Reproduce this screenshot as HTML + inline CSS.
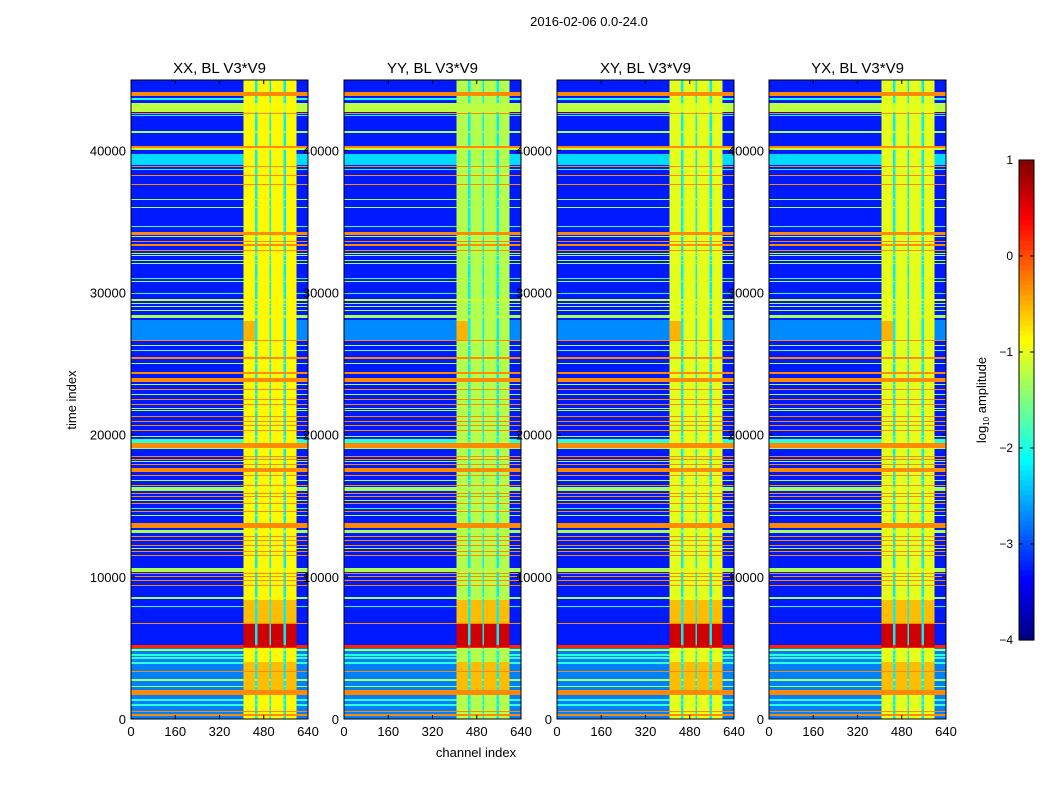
<!DOCTYPE html>
<html><head><meta charset="utf-8"><style>
html,body{margin:0;padding:0;background:#fff;}
svg{display:block;font-family:"Liberation Sans",sans-serif;}
</style></head><body>
<svg id="fig" width="1050" height="800" xmlns="http://www.w3.org/2000/svg">
<text x="589" y="26" font-size="13" text-anchor="middle">2016-02-06 0.0-24.0</text>
<text x="76" y="400" font-size="13" text-anchor="middle" transform="rotate(-90 76 400)">time index</text>
<text x="476" y="757" font-size="13" text-anchor="middle">channel index</text>
<g id="panels"></g>
<g id="cbar"></g>
</svg>
<script>
const panelTitles = ["XX, BL V3*V9","YY, BL V3*V9","XY, BL V3*V9","YX, BL V3*V9"];
const brightLevel = [-0.85,-1.25,-1.0,-1.0];
const xTicks = [0,160,320,480,640];
const yTicks = [0,10000,20000,30000,40000];
const cbTicks = [1,0,-1,-2,-3,-4];
// channel segments: [ch0, ch1, type]  type: G=ground(background), B=bright, D=dip
const colSegs = [[0,406,'G'],[406,448,'B'],[448,458,'D'],[458,500,'B'],[500,506,'D'],[506,552,'B'],[552,560,'D'],[560,599,'B'],[599,640,'G']];
const dipLevel = -2.2;
const bgLevel = -3.25;
// background broad regions: [t0,t1,v]
const bgRegions = [[38960,39730,-2.3],[26650,28060,-2.7],[0,5000,-2.75]];
// full-width horizontal lines: [t0,t1,v]
const rowBands = [
[43810,44090,-0.3],[43550,43700,-2.0],[42690,43320,-1.2],[42550,42620,-0.3],[42450,42520,-2.0],
[41250,41380,-1.3],[40200,40300,-0.3],[40050,40180,-1.2],[38850,38930,-0.3],[38620,38700,-2.0],
[38220,38300,-0.3],[37580,37660,-0.3],[36530,36610,-1.3],[35960,36040,-1.3],[34580,34660,-1.8],
[34030,34270,-0.3],[33900,33980,-1.3],[33530,33610,-0.3],[33300,33380,-0.3],[32940,33020,-0.3],
[32700,32780,-1.3],[32540,32620,-1.3],[32240,32320,-1.3],[32000,32080,-1.3],[30950,31030,-2.0],
[30720,30800,-1.3],[29890,29970,-2.0],[29430,29510,-1.1],[29200,29280,-1.3],[28950,29030,-1.3],
[28700,28780,-1.3],[28200,28410,-1.3],[26610,26690,-0.3],[26260,26340,-1.3],[25910,25990,-1.8],
[25350,25430,-0.3],[24990,25070,-1.3],[24300,24380,-0.3],[23700,23980,-0.3],[23460,23540,-1.3],
[23110,23190,-0.3],[22760,22840,-1.3],[22410,22490,-0.3],[22060,22140,-0.3],[21830,21910,-1.3],
[21680,21760,-1.3],[21260,21340,-0.3],[20860,20940,-0.3],[20630,20710,-0.3],[20280,20360,-0.3],
[19810,19890,-1.3],[19450,19680,-1.9],[19060,19410,-0.3],[18980,19060,-1.3],[18400,18480,-0.3],
[18240,18320,-0.3],[18050,18130,-1.3],[17890,17970,-0.3],[17370,17650,-0.3],[17110,17190,-0.3],
[16760,16840,-1.3],[16410,16490,-0.3],[16030,16310,-1.3],[15850,15930,-0.3],[15590,15670,-0.3],
[15360,15440,-1.3],[15140,15220,-0.3],[14790,14870,-1.9],[14540,14620,-0.3],[14300,14380,-1.3],
[13430,13780,-0.3],[13080,13290,-1.3],[12780,12860,-0.3],[12540,12620,-0.3],[12190,12270,-0.3],
[11980,12060,-1.3],[11720,11800,-0.3],[11490,11570,-0.3],[10340,10620,-1.3],[10220,10300,-0.3],
[9960,10040,-0.3],[9730,9810,-0.3],[9380,9460,-0.3],[8440,8600,-1.3],[7860,7940,-1.9],
[6690,6770,-0.3],[4990,5200,0.2],[4810,4890,-1.3],[4460,4540,-1.9],[4250,4330,-1.9],
[3900,3980,-1.9],[3290,3370,-0.3],[2700,2780,-1.3],[2230,2310,-1.3],[1690,2040,-0.3],
[1300,1380,-1.9],[940,1020,-1.9],[470,550,-0.3],[240,320,-0.3]];
// patches: [ch0, ch1, t0, t1, v, segType]
const patches = [
[250,406,5060,7000,-2.2,'G'],
[406,599,5060,6680,0.6,'B'],
[406,599,6730,8400,-0.55,'B'],
[406,599,1700,4000,-0.55,'B'],
[406,448,26650,28000,-0.5,'B']];

const PX=[131,344,557,769], PT=80, PW=177, PH=639, TMAX=44950, CHMAX=640;
function jet(v){const x=Math.max(0,Math.min(1,(v+4)/5));
 const c=k=>Math.round(255*Math.max(0,Math.min(1,1.5-Math.abs(4*x-k))));
 return `rgb(${c(3)},${c(2)},${c(1)})`;}
const NS="http://www.w3.org/2000/svg";
function el(tag,attrs,parent){const e=document.createElementNS(NS,tag);for(const k in attrs)e.setAttribute(k,attrs[k]);parent.appendChild(e);return e;}
const panelsG=document.getElementById('panels');
PX.forEach((px,pi)=>{
 const xs=ch=>px+ch/CHMAX*PW, ys=t=>PT+PH-t/TMAX*PH;
 const g=el('g',{},panelsG);
 
 
 const hm=el('g',{'shape-rendering':'crispEdges'},g);
 
 
 let prevKey=null, runStart=0, runVals=null;
 const flush=(yEnd)=>{ if(!runVals)return;
  colSegs.forEach((s,si)=>{const r=el('rect',{x:xs(s[0]),y:runStart,width:xs(s[1])-xs(s[0]),height:yEnd-runStart,fill:jet(runVals[si])},hm);
   
   });};
 for(let y=0;y<PH;y++){
  const t=(PH-y-0.5)/PH*TMAX;
  let rv=bgLevel;
  bgRegions.forEach(b=>{if(t>=b[0]&&t<b[1])rv=Math.max(rv,b[2]);});
  let line=-9;
  rowBands.forEach(b=>{if(t>=b[0]&&t<b[1])line=Math.max(line,b[2]);});
  const vals=colSegs.map(s=>{
   let v= s[2]==='G'?rv:(s[2]==='B'?brightLevel[pi]:dipLevel);
   patches.forEach(p=>{if(t>=p[2]&&t<p[3]&&s[0]>=p[0]&&s[1]<=p[1]&&s[2]===p[5])v=Math.max(v,p[4]);});
   return Math.max(v,line);});
  const key=vals.join(',');
  if(key!==prevKey){flush(PT+y);prevKey=key;runStart=PT+y;runVals=vals;}
 }
 flush(PT+PH);
 const fr=el('rect',{x:px,y:PT,width:PW,height:PH,fill:'none',stroke:'#000','stroke-width':1},g);
 
 
 xTicks.forEach(v=>{const x=xs(v);
  el('line',{x1:x,y1:PT+PH,x2:x,y2:PT+PH-4,stroke:'#000'},g);
  el('line',{x1:x,y1:PT,x2:x,y2:PT+4,stroke:'#000'},g);
  const tx=el('text',{x:x,y:PT+PH+17,'font-size':13,'text-anchor':'middle'},g);tx.textContent=v;
  
  });
 yTicks.forEach(v=>{const y=ys(v);
  el('line',{x1:px,y1:y,x2:px+4,y2:y,stroke:'#000'},g);
  el('line',{x1:px+PW,y1:y,x2:px+PW-4,y2:y,stroke:'#000'},g);
  const tx=el('text',{x:px-5,y:y+5,'font-size':13,'text-anchor':'end'},g);tx.textContent=v;
  
  });
 const ti=el('text',{x:px+PW/2,y:PT-7,'font-size':15,'text-anchor':'middle'},g);ti.textContent=panelTitles[pi];
 
 
});
// colorbar
const cb=document.getElementById('cbar');
const CX=1019, CW=15, CT=160, CB=640;
const cys=v=>CB-(v+4)/5*(CB-CT);
for(let i=0;i<96;i++){const v0=-4+i*5/96;
 const r=el('rect',{x:CX,y:cys(v0+5/96),width:CW,height:(CB-CT)/96+0.6,fill:jet(v0+2.5/96)},cb);
 
 }
el('rect',{x:CX,y:CT,width:CW,height:CB-CT,fill:'none',stroke:'#000'},cb);
cbTicks.forEach(v=>{const y=cys(v);
 el('line',{x1:CX,y1:y,x2:CX+4,y2:y,stroke:'#000'},cb);
 el('line',{x1:CX+CW,y1:y,x2:CX+CW-4,y2:y,stroke:'#000'},cb);
 const tx=el('text',{x:1013,y:y+4,'font-size':12,'text-anchor':'end'},cb);tx.textContent=(v<0?'\u2212'+(-v):v);
 
 });
const lab=el('text',{x:986,y:400,'font-size':13,'text-anchor':'middle',transform:'rotate(-90 986 400)'},cb);
lab.innerHTML='log<tspan font-size="8" dy="3">10</tspan><tspan dy="-3"> amplitude</tspan>';


</script>
</body></html>
